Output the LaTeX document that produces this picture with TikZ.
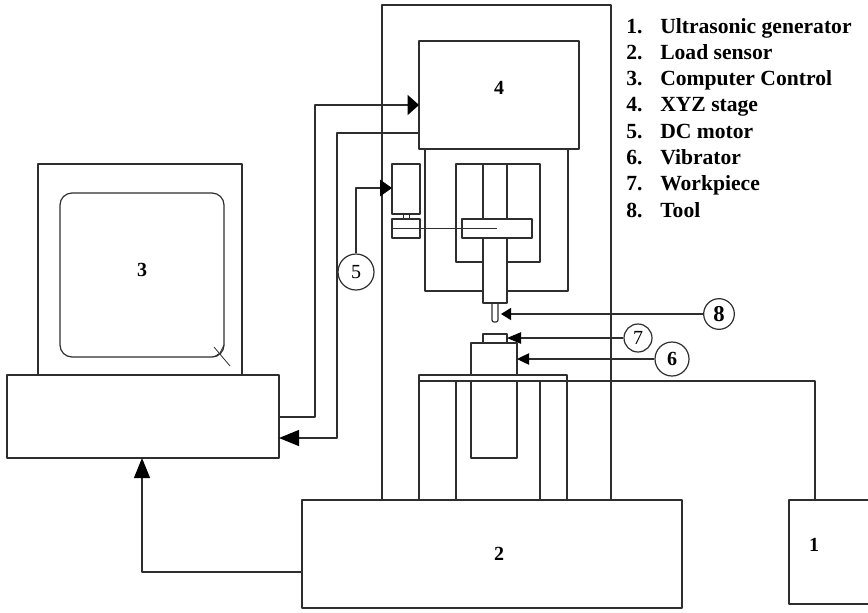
\documentclass[tikz,border=0pt]{standalone}
\usepackage{fontspec}
\setmainfont{Liberation Serif}
\usepackage{xcolor}
\usetikzlibrary{arrows.meta,positioning}
\definecolor{inkline}{gray}{0.18}
\tikzset{
    partline/.style={draw=inkline, line width=0.9pt, line join=round},
    blockbox/.style={partline, rectangle, inner sep=0pt},
    callout/.style={partline, circle, fill=white, inner sep=0pt, font=\fontsize{15}{15}\selectfont},
    partnum/.style={font=\bfseries\fontsize{15}{15}\selectfont, inner sep=0pt},
    listtext/.style={font=\bfseries\fontsize{16.2}{16.2}\selectfont, inner sep=0pt, anchor=base west},
    tip/.style n args={2}{-{Triangle[length=#1, width=#2, color=black, fill=black]}},
}

\begin{document}
\begin{tikzpicture}[x=0.75pt, y=-0.75pt]
    \useasboundingbox (0,0) rectangle (868,612);

    % main frame and the load sensor below it
    \node[blockbox, minimum width=171.75pt, minimum height=371.25pt] (frame) at (496.5,252.5) {};
    \node[blockbox, minimum width=285pt, minimum height=81pt] (sensor) at (492,554) {};
    \node[partnum] (sensornum) at (499,554) {2};

    % ultrasonic generator, cut by the right edge
    \draw[partline] (868,500) -- (789,500) -- (789,604) -- (868,604);
    \node[partnum] (gennum) at (814,545) {1};

    % computer: monitor, screen and base
    \node[blockbox, minimum width=153pt, minimum height=158.25pt] (monitor) at (140,269.5) {};
    \draw[partline, rounded corners=9pt] (60,193) rectangle (224,357);
    \draw[partline, line width=0.6pt] (214,347) -- (230,366);
    \draw[partline, line width=0.6pt] (224,345) -- (220,353) -- (214,357);
    \node[blockbox, minimum width=204pt, minimum height=62.25pt] (base) at (143,416.5) {};
    \node[partnum] (monitornum) at (142,270) {3};

    % XYZ stage with carriage and spindle
    \node[blockbox, minimum width=120pt, minimum height=81pt] (stage) at (499,95) {};
    \node[partnum] (stagenum) at (499,88) {4};
    \draw[partline] (425,149) |- (568,291) -- (568,149);
    \draw[partline] (456,164) rectangle (540,262);
    \draw[partline] (483,164) -- (483,219);
    \draw[partline] (507,164) -- (507,219);
    \draw[partline, fill=white] (483,238) rectangle (507,303);
    \node[blockbox, fill=white, minimum width=52.5pt, minimum height=14.25pt] (bar) at (497,228.5) {};

    % tool
    \draw[partline, rounded corners=1.5pt] (492,303) -- (492,322) -- (498,322) -- (498,303);

    % DC motor, coupling and shaft
    \node[blockbox, minimum width=21pt, minimum height=37.5pt] (motor) at (406,189) {};
    \node[blockbox, minimum width=21pt, minimum height=14.25pt] (coupling) at (406,228.5) {};
    \draw[partline, line width=0.6pt] (403,214) -- (403,219);
    \draw[partline, line width=0.6pt] (409,214) -- (409,219);
    \draw[partline] (coupling.west) -- (497,228.5);

    % table with vibrator and workpiece
    \draw[partline] (419,381) |- (567,375) -- (567,381);
    \draw[partline] (419,375) -- (419,500);
    \draw[partline] (567,375) -- (567,500);
    \draw[partline] (456,381) -- (456,500);
    \draw[partline] (540,381) -- (540,500);
    \draw[partline] (471,375) |- (517,343) -- (517,375);
    \draw[partline] (471,381) |- (517,458) -- (517,381);
    \draw[partline] (483,343) |- (507,334) -- (507,343);

    % wire from generator to table
    \coordinate (genout) at (815,500);
    \coordinate (tableend) at (419,381);
    \draw[partline] (genout) |- (tableend);

    % signal lines
    \coordinate (baseout) at (279,417);
    \coordinate (basein) at (279,438);
    \coordinate (stagein) at (419,105);
    \coordinate (stageout) at (419,133);
    \coordinate (sensorout) at (302,572);
    \coordinate (baseunder) at (142,458);
    \coordinate (motorin) at (392,188);
    \draw[partline, tip={8.5pt}{15pt}] (baseout) -- (315,417) -- (315,105) -- (stagein);
    \draw[partline, tip={15pt}{12pt}] (stageout) -- (337,133) -- (337,438) -- (basein);
    \draw[partline, tip={15pt}{12pt}] (sensorout) -| (baseunder);

    % numbered callouts
    \node[callout, minimum size=27pt] (call5) at (356,272) {5};
    \node[callout, minimum size=23pt, font=\bfseries\fontsize{17}{17}\selectfont] (call8) at (719,314) {8};
    \node[callout, minimum size=21pt] (call7) at (638,338) {7};
    \node[callout, minimum size=25.5pt, font=\bfseries\fontsize{15}{15}\selectfont] (call6) at (672,359) {6};
    \coordinate (toolin) at (501,314);
    \coordinate (workin) at (507,338);
    \coordinate (vibin) at (517,359);
    \draw[partline, tip={9pt}{12.5pt}] (call5.north) |- (motorin);
    \draw[partline, tip={7.5pt}{9pt}] (call8.west) -- (toolin);
    \draw[partline, tip={10.5pt}{8.5pt}] (call7.west) -- (workin);
    \draw[partline, tip={9pt}{8.5pt}] (call6.west) -- (vibin);

    % legend
    \foreach \i/\t in {1/Ultrasonic generator, 2/Load sensor, 3/Computer Control, 4/XYZ stage, 5/DC motor, 6/Vibrator, 7/Workpiece, 8/Tool} {
        \node[listtext] (num\i) at (626,{33+26.3*(\i-1)}) {\i.};
        \node[listtext] (item\i) at (660,{33+26.3*(\i-1)}) {\t};
    }
\end{tikzpicture}
\end{document}
